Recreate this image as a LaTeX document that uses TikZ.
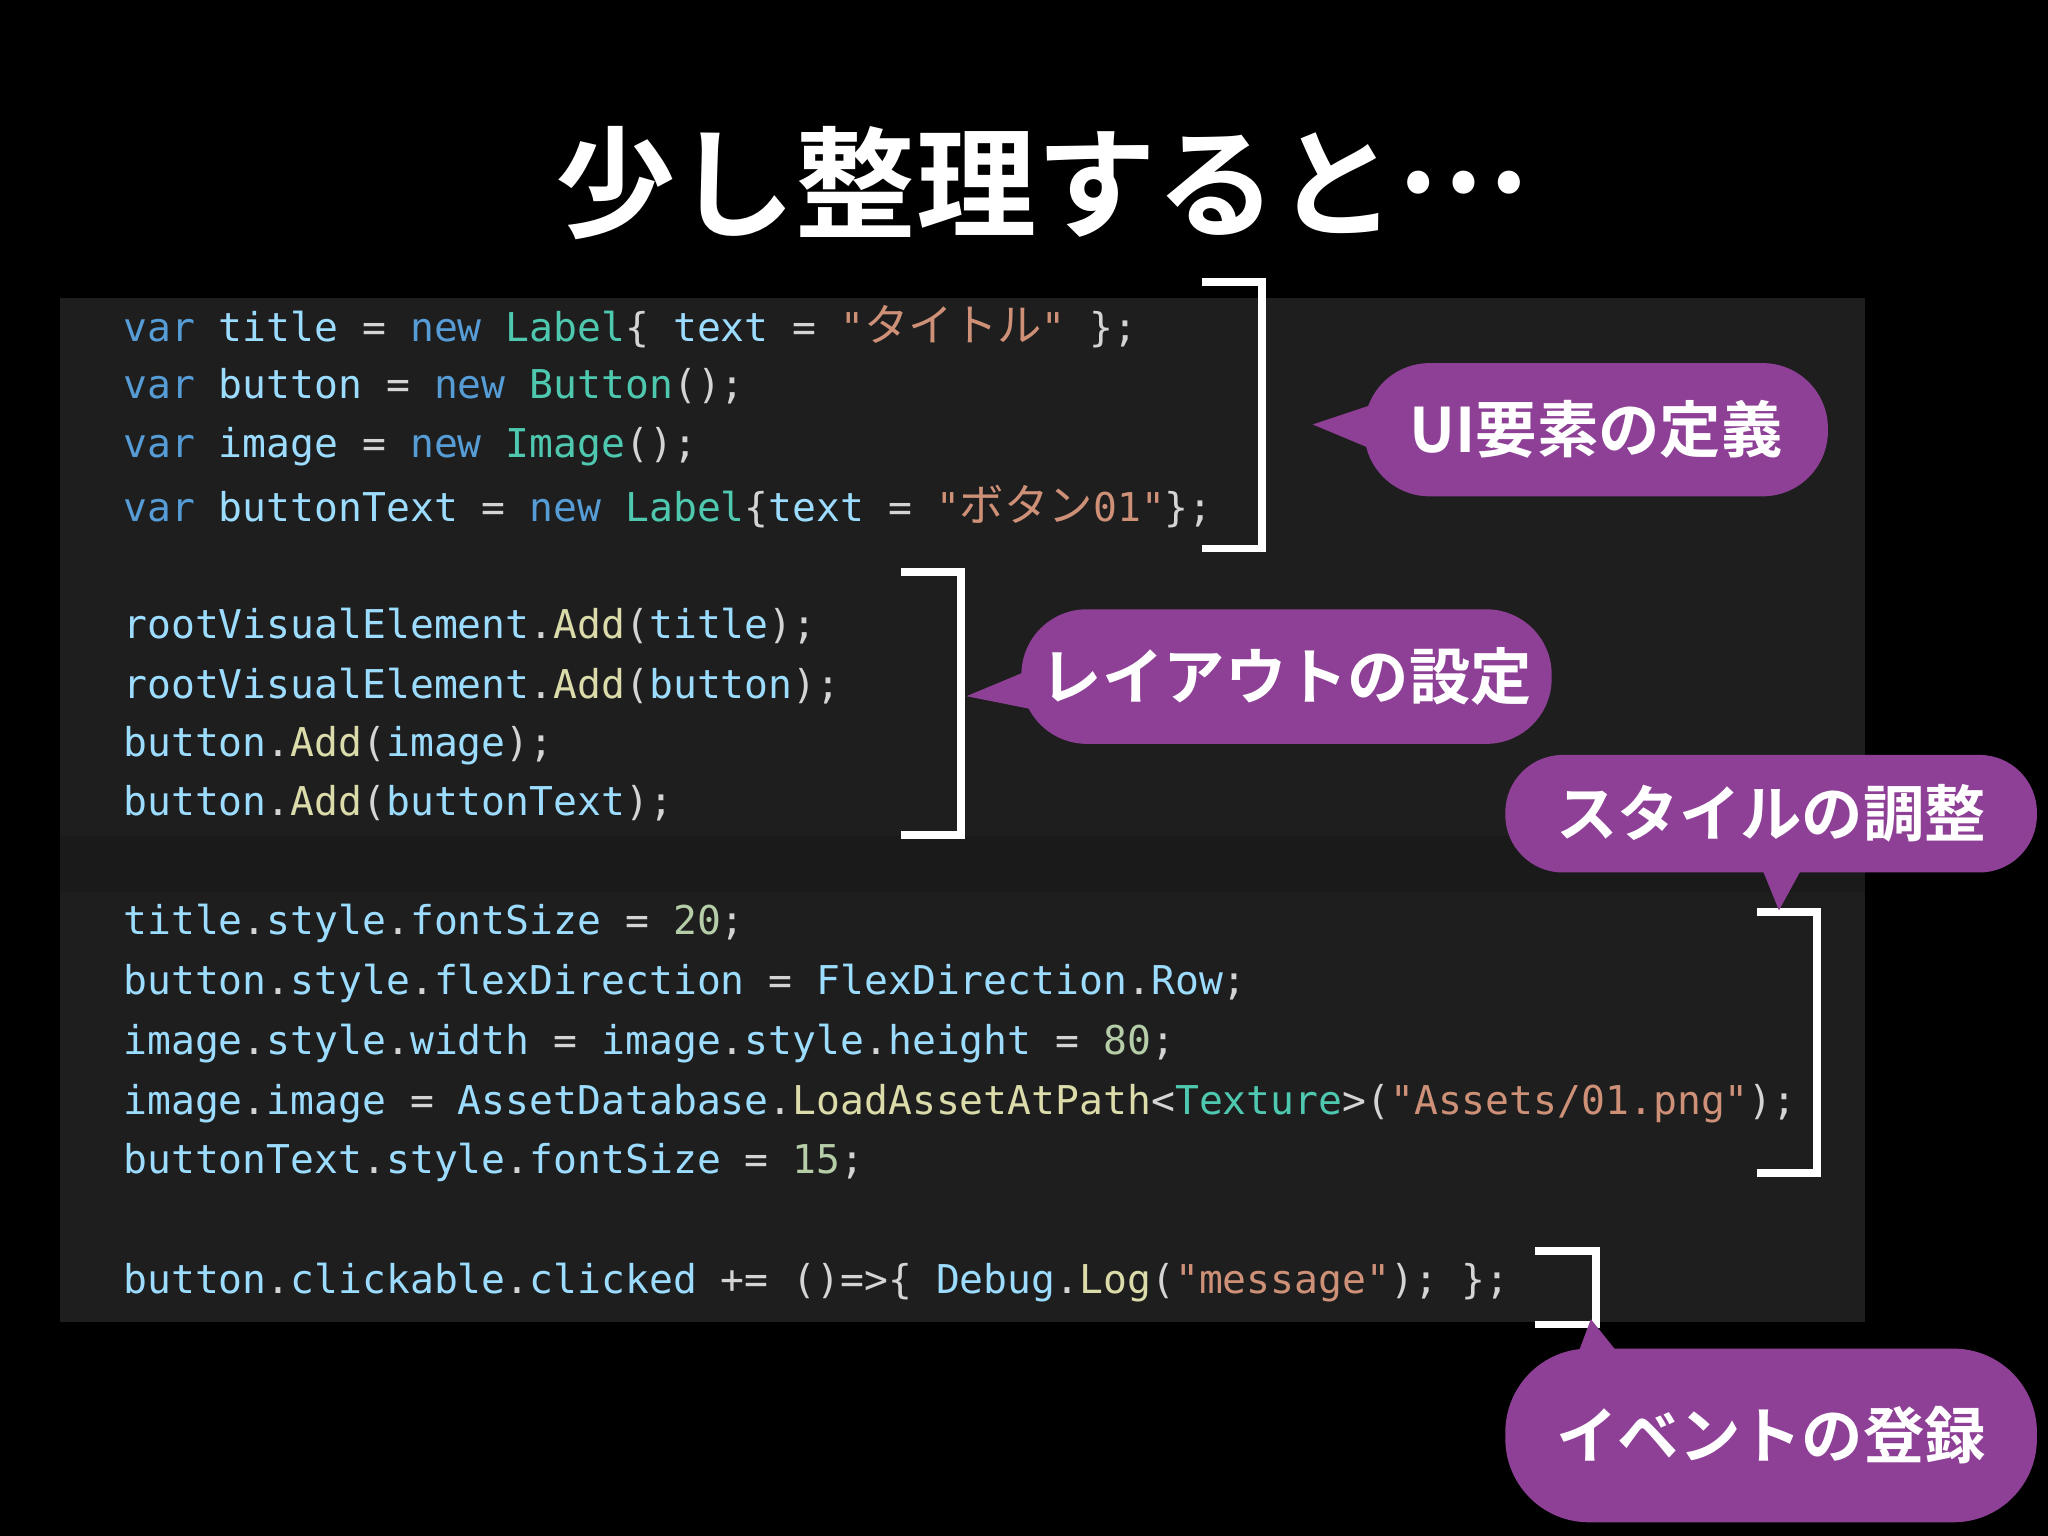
\documentclass[tikz,border=0pt]{standalone}
\usepackage{fontspec}
\newfontfamily\cjk{Noto Sans CJK JP}[BoldFont={* Bold}]
\setmonofont{DejaVu Sans Mono}
\definecolor{kw}{HTML}{569CD6}
\definecolor{idf}{HTML}{9CDCFE}
\definecolor{typ}{HTML}{4EC9B0}
\definecolor{str}{HTML}{CE9178}
\definecolor{mth}{HTML}{DCDCAA}
\definecolor{pun}{HTML}{D4D4D4}
\definecolor{num}{HTML}{B5CEA8}
\definecolor{panel}{HTML}{1E1E1E}
\definecolor{band}{HTML}{1A1A1A}
\definecolor{pill}{HTML}{8E3F96}
\newcommand\Kw[1]{\textcolor{kw}{#1}}
\newcommand\Id[1]{\textcolor{idf}{#1}}
\newcommand\Ty[1]{\textcolor{typ}{#1}}
\newcommand\St[1]{\textcolor{str}{#1}}
\newcommand\Me[1]{\textcolor{mth}{#1}}
\newcommand\Pu[1]{\textcolor{pun}{#1}}
\newcommand\Nu[1]{\textcolor{num}{#1}}
\newcommand\Jp[1]{{\cjk\fontsize{17}{17}\selectfont #1}}
\begin{document}
\begin{tikzpicture}[x=0.5pt,y=-0.5pt,
  code/.style={anchor=west,inner sep=0pt,font=\ttfamily\fontsize{15.2}{16}\selectfont},
  brk/.style={draw=white,line width=3pt},
  pillbox/.style={fill=pill,rounded corners=25pt,text=white,font=\cjk\bfseries\fontsize{23.5}{24}\selectfont,inner sep=0pt}]
\fill[black] (0,0) rectangle (1568,1176);
\fill[panel] (46,228) rectangle (1428,1012);
\fill[band] (46,640) rectangle (1428,683);
\node[text=white,font=\cjk\bfseries\fontsize{46}{48}\selectfont] (title) at (798,140) {少し整理すると\raisebox{0.3em}{⋯}};
% code
\node[code] (l1) at (94,250) {\Kw{var} \Id{title} \Pu{=} \Kw{new} \Ty{Label}\Pu{\{} \Id{text} \Pu{=} \St{"\Jp{タイトル}"} \Pu{\};}};
\node[code] (l2) at (94,296) {\Kw{var} \Id{button} \Pu{=} \Kw{new} \Ty{Button}\Pu{();}};
\node[code] (l3) at (94,342) {\Kw{var} \Id{image} \Pu{=} \Kw{new} \Ty{Image}\Pu{();}};
\node[code] (l4) at (94,388) {\Kw{var} \Id{buttonText} \Pu{=} \Kw{new} \Ty{Label}\Pu{\{}\Id{text} \Pu{=} \St{"\Jp{ボタン}01"}\Pu{\};}};
\node[code] (l5) at (94,479) {\Id{rootVisualElement}\Pu{.}\Me{Add}\Pu{(}\Id{title}\Pu{);}};
\node[code] (l6) at (94,525) {\Id{rootVisualElement}\Pu{.}\Me{Add}\Pu{(}\Id{button}\Pu{);}};
\node[code] (l7) at (94,571) {\Id{button}\Pu{.}\Me{Add}\Pu{(}\Id{image}\Pu{);}};
\node[code] (l8) at (94,615) {\Id{button}\Pu{.}\Me{Add}\Pu{(}\Id{buttonText}\Pu{);}};
\node[code] (l9) at (94,707) {\Id{title}\Pu{.}\Id{style}\Pu{.}\Id{fontSize} \Pu{=} \Nu{20}\Pu{;}};
\node[code] (l10) at (94,753) {\Id{button}\Pu{.}\Id{style}\Pu{.}\Id{flexDirection} \Pu{=} \Id{FlexDirection}\Pu{.}\Id{Row}\Pu{;}};
\node[code] (l11) at (94,799) {\Id{image}\Pu{.}\Id{style}\Pu{.}\Id{width} \Pu{=} \Id{image}\Pu{.}\Id{style}\Pu{.}\Id{height} \Pu{=} \Nu{80}\Pu{;}};
\node[code] (l12) at (94,845) {\Id{image}\Pu{.}\Id{image} \Pu{=} \Id{AssetDatabase}\Pu{.}\Me{LoadAssetAtPath}\Pu{<}\Ty{Texture}\Pu{>(}\St{"Assets/01.png"}\Pu{);}};
\node[code] (l13) at (94,890) {\Id{buttonText}\Pu{.}\Id{style}\Pu{.}\Id{fontSize} \Pu{=} \Nu{15}\Pu{;}};
\node[code] (l14) at (94,982) {\Id{button}\Pu{.}\Id{clickable}\Pu{.}\Id{clicked} \Pu{+= ()=>\{} \Id{Debug}\Pu{.}\Me{Log}\Pu{(}\St{"message"}\Pu{);} \Pu{\};}};
% brackets
\draw[brk] (920,216) -- (966,216) -- (966,420) -- (920,420);
\draw[brk] (690,438) -- (736,438) -- (736,639) -- (690,639);
\draw[brk] (1345,698) -- (1391,698) -- (1391,898) -- (1345,898);
\draw[brk] (1175,958) -- (1222,958) -- (1222,1014) -- (1175,1014);
% pointers
\fill[pill] (1005,325) -- (1065,305) -- (1065,350) -- cycle;
\fill[pill] (740,533) -- (800,508) -- (800,545) -- cycle;
\fill[pill] (1362,697) -- (1345,655) -- (1385,655) -- cycle;
\fill[pill] (1218,1010) -- (1203,1050) -- (1250,1050) -- cycle;
% pills
\node[pillbox,minimum width=177.5pt,minimum height=51pt] (pa) at (1222,329) {UI要素の定義};
\node[pillbox,minimum width=203pt,minimum height=51.5pt] (pb) at (985,518) {レイアウトの設定};
\node[pillbox,minimum width=203.5pt,minimum height=45pt,rounded corners=22pt] (pc) at (1356,623) {スタイルの調整};
\node[pillbox,minimum width=203.5pt,minimum height=66.5pt,rounded corners=32pt] (pd) at (1356,1099) {イベントの登録};
\end{tikzpicture}
\end{document}
